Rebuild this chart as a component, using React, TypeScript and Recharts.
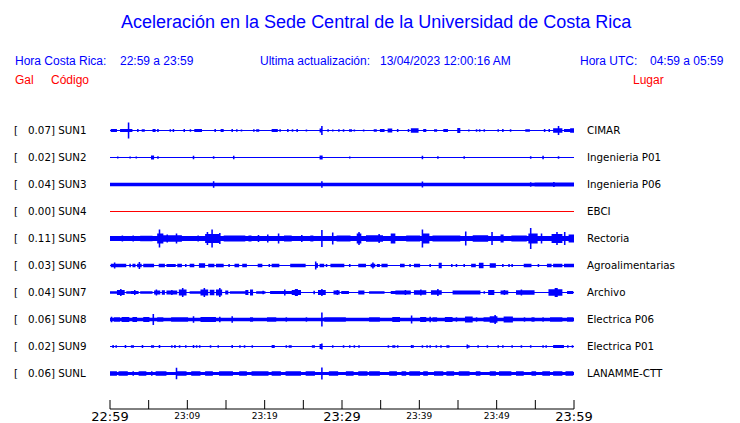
import React from 'react';
import { ComposedChart, Area, XAxis, YAxis } from 'recharts';

// minutes since 22:59 (Costa Rica time)
const TICK_MINUTES = [0, 5, 10, 15, 20, 25, 30, 35, 40, 45, 50, 55, 60];
const TICK_LABELS = ['22:59', '', '23:09', '', '23:19', '', '23:29', '', '23:39', '', '23:49', '', '23:59'];
const BIG_LABELS = ['22:59', '23:29', '23:59'];

const CODES = ['SUN1', 'SUN2', 'SUN3', 'SUN4', 'SUN5', 'SUN6', 'SUN7', 'SUN8', 'SUN9', 'SUNL'];
const PEAK_GAL = ['0.07', '0.02', '0.04', '0.00', '0.11', '0.03', '0.04', '0.06', '0.02', '0.06'];
const PLACES = ['CIMAR', 'Ingenieria P01', 'Ingenieria P06', 'EBCI', 'Rectoria', 'Agroalimentarias', 'Archivo', 'Electrica P06', 'Electrica P01', 'LANAMME-CTT'];

// background (noise) half amplitude of each trace
const BASE_AMP = [0.5, 0.5, 1.7, 0.5, 2.4, 0.5, 0.6, 1.7, 0.5, 1.5];

// events: [minute, amp] or [fromMinute, toMinute, amp]
const SUN1_EVENTS = [
  [0.2, 0.9, 1.5], [1.5, 2.1, 1.5], [2.3, 2.9, 1.5], [2.5, 8], [3.66, 1.5], [4.18, 1.2], [4.44, 1.2], [5.6, 5.8, 1.5],
  [6.12, 1.5], [7.75, 1.2], [8.19, 1.5], [9.56, 1.5], [10.47, 1.2], [11.1, 11.9, 1.5], [13.57, 1.5], [14.4, 14.6, 1.5],
  [15.72, 1.5], [16.37, 1.2], [17.02, 1], [18.52, 1.2], [19.0, 19.1, 1.2], [21.0, 21.6, 1.5], [21.97, 1.2], [22.91, 1.5],
  [23.69, 1.2], [24.26, 1.5], [25.5, 1], [27.2, 27.5, 2], [27.36, 4.5], [28.21, 1.2], [28.86, 1], [29.63, 1.2],
  [30.28, 1.2], [31.0, 31.2, 1.2], [31.66, 1], [32.78, 1], [34.25, 34.5, 1.2], [35.1, 35.5, 1.5], [36.1, 36.4, 2],
  [37.13, 1.5], [38.55, 1.5], [39.1, 39.7, 2.2], [40.7, 1.5], [42.0, 1.2], [42.2, 1.2], [43.16, 43.6, 1.5],
  [45.1, 45.3, 2.5], [46.5, 1], [47.5, 1.2], [47.9, 1.2], [48.5, 1.2], [50.3, 1.2], [50.9, 1.5], [51.9, 1.2],
  [53.9, 54.2, 1.2], [56.2, 1.5], [56.9, 1.5], [57.5, 58.4, 2.2], [58.07, 4.5], [58.8, 59.4, 1.5], [59.7, 60, 2.2],
];
const SUN2_EVENTS = [
  [0.95, 1], [2.67, 1], [3.31, 1], [5.5, 5.7, 2], [6.25, 1.2], [10.77, 1.8], [13.35, 1.2], [15.94, 1.8],
  [27.2, 27.5, 2], [30.93, 1], [40.5, 1.8], [42.43, 1.2], [45.88, 1.2], [54.4, 1.2], [56.0, 1.8], [57.95, 58.1, 1.2],
];
const SUN3_EVENTS = [[13.44, 3.3], [27.36, 3.3], [40.5, 3], [54.4, 2.2], [57.4, 2.5], [55, 60, 2]];
const SUN4_EVENTS: number[][] = [];
const SUN5_EVENTS = [
  [1.6, 3], [3.0, 3], [4.1, 5.4, 2.8], [5.7, 4], [6.25, 6.75, 5], [6.46, 9], [6.9, 9.3, 3.2], [7.5, 4], [8.6, 5],
  [9.3, 4], [11.4, 3], [12.3, 14.0, 4.5], [12.7, 6.5], [13.2, 9], [14.2, 5.5], [14.9, 17.4, 2.9], [18.1, 3], [19.2, 3.5],
  [20.5, 4], [21.8, 5], [22.6, 23.5, 3], [24.8, 3.5], [26.1, 3], [27.36, 8.5], [28.9, 6], [29.5, 31.0, 3],
  [32.1, 32.5, 5], [32.2, 6.5], [33.2, 35.3, 3.2], [34.9, 4.5], [36.4, 36.8, 5], [38.4, 40.1, 2.9], [40.5, 41.2, 5],
  [40.5, 9], [41.8, 45.2, 2.9], [46.0, 7], [47.0, 48.7, 3.2], [49.4, 6.5], [50.7, 4], [52.1, 53.9, 2.9],
  [54.3, 55.2, 5], [54.5, 10.5], [55.8, 5], [57.3, 58.4, 4.5], [57.9, 6.5], [58.8, 6.5], [59.4, 60, 4],
];
const SUN6_EVENTS = [
  [0.2, 2.0, 1.8], [0.65, 3], [2.6, 1.8], [3.0, 3.3, 1.8], [3.7, 4.0, 1.8], [3.8, 3.5], [4.4, 5.6, 1.8], [6.5, 7.1, 1.8],
  [6.9, 3], [7.5, 8.4, 1.6], [8.9, 9.2, 1.8], [9.8, 1.5], [10.5, 10.8, 1.8], [11.6, 12.3, 2.2], [12.9, 13.4, 1.8],
  [13.8, 14.6, 1.8], [15.4, 1.5], [16.2, 16.6, 1.8], [17.2, 17.7, 1.8], [19.2, 19.6, 1.8], [20.6, 1.5], [21.1, 21.8, 1.8],
  [23.4, 25.1, 1.8], [26.6, 26.9, 2.2], [26.7, 4], [27.3, 27.6, 1.8], [28.0, 1.5], [28.7, 29.1, 1.8], [29.5, 30.2, 1.8],
  [31.0, 1.5], [32.2, 33.0, 1.8], [33.8, 34.3, 1.8], [34.0, 3], [34.7, 34.9, 1.6], [35.3, 35.9, 1.8], [37.6, 38.0, 1.8],
  [38.8, 1.5], [39.4, 40.0, 1.8], [41.4, 1.5], [42.6, 42.8, 2.8], [44.2, 1.5], [44.8, 1.5], [45.8, 1.5],
  [46.8, 47.2, 1.8], [47.8, 48.3, 2.8], [49.3, 49.8, 2.3], [50.8, 1.5], [51.6, 1.6], [52.1, 1.5], [53.6, 54.5, 1.8],
  [55.4, 1.5], [56.7, 57.0, 1.8], [57.5, 58.4, 1.8], [58.8, 60, 1.8],
];
const SUN7_EVENTS = [
  [0, 1.1, 1.3], [1.1, 1.85, 2.6], [1.5, 3.5], [2.15, 2.6, 1.3], [2.8, 3.66, 1.6], [3.2, 2.5], [4.1, 5.4, 1.3],
  [5.8, 6.5, 1.9], [6.1, 3], [6.7, 7.1, 2.3], [7.5, 8.6, 1.9], [8.0, 2.6], [9.05, 9.9, 3], [9.5, 4.5], [10.3, 11.6, 1.3],
  [11.85, 12.7, 3], [12.2, 4.5], [13.1, 13.4, 2.8], [13.8, 14.5, 3], [14.2, 4.5], [15.1, 15.3, 2], [15.7, 17.45, 1.3],
  [17.7, 17.9, 2.5], [18.3, 18.5, 3], [19.0, 20.0, 1.3], [19.8, 1.8], [20.9, 22.4, 1.6], [22.6, 3], [22.8, 23.5, 1.6],
  [23.7, 24.6, 2.6], [24.1, 3.5], [26.4, 1.8], [27.1, 27.8, 2.6], [27.4, 3.5], [29.0, 29.7, 2], [29.5, 2.6],
  [30.0, 30.8, 1.6], [32.3, 32.9, 2], [33.6, 35.5, 1.3], [36.4, 36.8, 1.6], [37.05, 38.8, 1.9], [38.3, 2.6],
  [39.4, 40.7, 2.2], [40.3, 3], [41.6, 42.7, 2.2], [42.35, 3.5], [44.4, 46.1, 1.9], [46.3, 47.8, 1.9], [48.5, 1.3],
  [49.1, 49.6, 2.5], [50.6, 51.5, 1.9], [51.1, 2.6], [52.6, 54.7, 2.2], [53.2, 3], [56.9, 58.4, 3.3], [57.7, 4.5],
  [59.2, 59.8, 1.6],
];
const SUN8_EVENTS = [
  [0.2, 2.8], [0.65, 1.1, 2.2], [1.7, 2.4, 2.6], [3.0, 3.45, 2.6], [4.5, 5.0, 2.6], [5.6, 5.5], [6.25, 6.9, 2.2],
  [8.0, 10.1, 2.2], [10.9, 3.3], [11.85, 13.6, 2.5], [14.2, 2.8], [15.9, 3.3], [18.3, 2.3], [20.5, 21.3, 2.2],
  [22.8, 2.3], [25.4, 2.3], [27.36, 7], [27.8, 30.4, 2.2], [33.6, 34.9, 2.2], [36.6, 37.5, 2.6], [39.0, 4],
  [40.3, 40.7, 2.6], [41.4, 2.8], [41.8, 42.2, 2.2], [43.5, 44.2, 2.6], [44.8, 2.3], [46.1, 46.8, 3], [47.4, 2.3],
  [48.5, 49.1, 2.2], [49.3, 50.0, 3.3], [49.8, 4.5], [51.0, 52.1, 3], [53.6, 2.3], [54.7, 2.3], [56.0, 2.3],
  [57.1, 58.4, 2.2], [59.2, 59.7, 2.2],
];
const SUN9_EVENTS = [
  [0.43, 1.5], [0.87, 1.2], [1.94, 1.5], [2.8, 1.2], [3.0, 1.2], [4.3, 1.5], [5.4, 1.2], [5.6, 1.2], [6.5, 1.5],
  [8.0, 1.2], [8.4, 1.5], [9.0, 1.2], [9.9, 1.2], [10.8, 1.5], [11.2, 1.2], [11.6, 1.2], [12.3, 1.5], [13.1, 1.2],
  [14.0, 1.2], [15.9, 1.5], [16.8, 1.2], [17.4, 1.2], [18.5, 1.2], [21.1, 1.5], [22.8, 1.2], [23.3, 1.2],
  [26.3, 1.2], [27.2, 27.5, 2.5], [27.36, 3], [28.9, 1.2], [30.2, 1.2], [31.0, 1.2], [31.7, 1.2], [32.3, 1.2],
  [36.0, 1.2], [36.6, 1.2], [36.8, 1.2], [37.3, 1.2], [39.0, 1.5], [39.2, 1.2], [40.5, 1.2], [41.0, 1.2],
  [41.4, 1.2], [42.2, 1.2], [42.9, 1.2], [43.7, 1.2], [46.3, 2], [46.5, 1.2], [47.6, 1.2], [48.9, 1.2],
  [50.2, 1.2], [50.9, 1.2], [52.1, 1.2], [53.2, 1.2], [54.5, 1.2], [56.0, 1.2], [56.4, 1.2], [57.5, 58.6, 1.5],
  [59.3, 1.2], [59.9, 1.2],
];
const SUNL_EVENTS = [
  [0, 0.86, 2.2], [1.3, 2.2, 2.2], [3.0, 2.2], [3.9, 4.7, 2.2], [5.4, 2.2], [6.0, 7.3, 2.2], [8.53, 5.8],
  [8.6, 9.9, 2.2], [10.6, 11.6, 2.2], [12.5, 13.3, 2.2], [14.2, 15.9, 2.2], [16.8, 17.6, 2.2], [18.5, 20.3, 2.2],
  [21.1, 22.0, 2.2], [22.8, 24.6, 2.2], [25.4, 26.3, 2.2], [27.36, 6], [28.4, 29.3, 2.2], [30.6, 31.5, 2.2],
  [32.3, 33.2, 2.2], [33.6, 34.9, 2.2], [36.2, 37.05, 2.2], [37.9, 38.3, 2.2], [38.8, 40.1, 2.2], [40.7, 41.1, 2.2],
  [42.0, 43.1, 2.2], [43.7, 44.4, 2.2], [45.2, 45.7, 2.2], [46.1, 46.5, 2.2], [47.4, 47.8, 2.2], [49.3, 49.8, 2.2],
  [50.4, 51.7, 2.2], [52.6, 53.4, 2.2], [54.7, 55.1, 2.2], [56.0, 56.9, 2.2], [57.5, 58.4, 2.2], [59.0, 59.9, 2.2],
];

const EVENTS = [SUN1_EVENTS, SUN2_EVENTS, SUN3_EVENTS, SUN4_EVENTS, SUN5_EVENTS, SUN6_EVENTS, SUN7_EVENTS, SUN8_EVENTS, SUN9_EVENTS, SUNL_EVENTS];

const STEP = 0.2;
const ROW_GAP = 27;
const BLUE = '#0000ff';
const RED = '#ff0000';

const rows = (() => {
  const out: any[] = [];
  const n = Math.round(60 / STEP);
  for (let i = 0; i <= n; i++) {
    const t = +(i * STEP).toFixed(2);
    const row: any = { t };
    CODES.forEach((code, k) => {
      let a = BASE_AMP[k];
      for (const ev of EVENTS[k]) {
        const t0 = ev[0];
        const t1 = ev.length === 3 ? ev[1] : ev[0];
        const amp = ev[ev.length - 1];
        if (t >= t0 - STEP / 2 && t < t1 + STEP / 2) a = Math.max(a, amp);
      }
      const c = k * ROW_GAP;
      row[code] = [c - a, c + a];
    });
    out.push(row);
  }
  return out;
})();

const TimeTick = (props: any) => {
  const { x, y, payload } = props;
  const idx = TICK_MINUTES.indexOf(payload.value);
  const label = TICK_LABELS[idx];
  const big = BIG_LABELS.includes(label);
  return (
    <g>
      <line x1={x} x2={x} y1={y - 9} y2={y} stroke="#000" strokeWidth={1} />
      {label && (
        <text x={x} y={big ? y + 12 : y + 10} textAnchor="middle" fontFamily="DejaVu Sans" fontSize={big ? 13 : 9} fill="#000">
          {label}
        </text>
      )}
    </g>
  );
};

const HEAD = 'Liberation Sans, Arial, sans-serif';
const MONO = 'DejaVu Sans, sans-serif';

export default function App() {
  return (
    <div style={{ position: 'absolute', left: 0, top: 0, width: 740, height: 423, background: '#fff' }}>
      <ComposedChart width={740} height={423} data={rows} margin={{ top: 117, right: 166, bottom: 0, left: 110 }}>
        <XAxis
          dataKey="t"
          type="number"
          domain={[0, 60]}
          ticks={TICK_MINUTES}
          interval={0}
          height={14}
          tickSize={0}
          tickMargin={0}
          tickLine={false}
          axisLine={{ stroke: '#000', strokeWidth: 1 }}
          tick={<TimeTick />}
        />
        <YAxis type="number" domain={[-13.5, 278.5]} reversed hide />
        {CODES.map((code, k) => (
          <Area
            key={code}
            dataKey={code}
            type="step"
            stroke="none"
            fill={k === 3 ? RED : BLUE}
            fillOpacity={1}
            isAnimationActive={false}
            dot={false}
            activeDot={false}
          />
        ))}
      </ComposedChart>
      <svg width={740} height={423} style={{ position: 'absolute', left: 0, top: 0, pointerEvents: 'none' }}>
        <text x={121} y={28} fontFamily={HEAD} fontSize={18} fill={BLUE}>
          Aceleración en la Sede Central de la Universidad de Costa Rica
        </text>
        <g fontFamily={HEAD} fontSize={12} fill={BLUE}>
          <text x={15} y={65}>Hora Costa Rica:</text>
          <text x={120} y={65}>22:59 a 23:59</text>
          <text x={260} y={65}>Ultima actualización:</text>
          <text x={380} y={65}>13/04/2023 12:00:16 AM</text>
          <text x={580} y={65}>Hora UTC:</text>
          <text x={650} y={65}>04:59 a 05:59</text>
        </g>
        <g fontFamily={HEAD} fontSize={12} fill={RED}>
          <text x={15} y={84}>Gal</text>
          <text x={51} y={84}>Código</text>
          <text x={633} y={84}>Lugar</text>
        </g>
        <g fontFamily={MONO} fontSize={10.3} fill="#000">
          {CODES.map((code, k) => (
            <g key={code}>
              <text x={14} y={134 + k * ROW_GAP}>[</text>
              <text x={28} y={134 + k * ROW_GAP}>{`${PEAK_GAL[k]}] ${code}`}</text>
              <text x={587} y={134 + k * ROW_GAP}>{PLACES[k]}</text>
            </g>
          ))}
        </g>
      </svg>
    </div>
  );
}
